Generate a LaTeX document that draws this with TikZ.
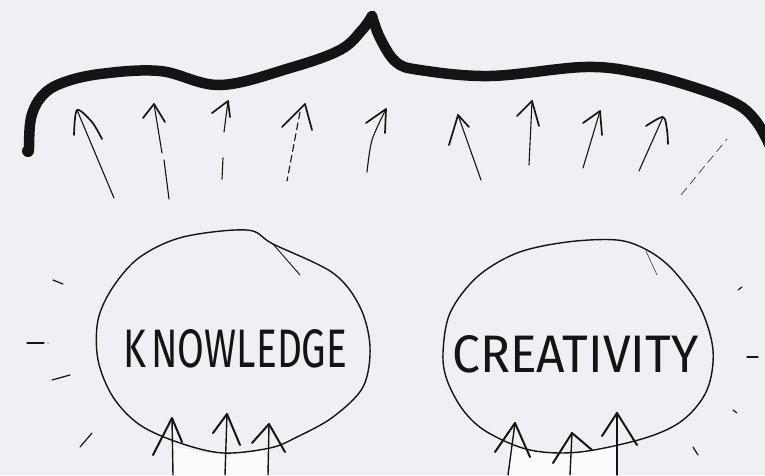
\documentclass[tikz,border=0pt]{standalone}
\usepackage{fontspec}
\newfontfamily\hand{Fira Sans}
\definecolor{bg}{HTML}{EEF0F3}
\definecolor{ink}{HTML}{141414}
\definecolor{faint}{HTML}{3A3A3A}
\definecolor{patch}{HTML}{FAFBFC}
\tikzset{
  pen/.style={draw=ink, line width=1.1pt, line cap=round, line join=round},
  headpen/.style={draw=ink, line width=1.7pt, line cap=round, line join=round},
  ringpen/.style={draw=ink, line width=1.4pt, line cap=round, line join=round},
  bracepen/.style={draw=ink, line width=10.5pt, line cap=round, line join=round},
  tickpen/.style={draw=ink, line width=1.2pt, line cap=round},
  word/.style={anchor=base west, inner sep=0pt, text=ink}
}
\begin{document}
\begin{tikzpicture}[x=1pt,y=-1pt]
\fill[bg] (0,0) rectangle (765,475);
\useasboundingbox (0,0) rectangle (765,475);

% ---- brace ----
\draw[bracepen] plot[smooth, tension=0.6] coordinates {(29,150) (31,118) (42,96) (62,83) (100,74) (160,71) (220,85) (290,68) (340,50) (362,30) (372,16)};
\draw[bracepen] plot[smooth, tension=0.6] coordinates {(372,16) (380,38) (396,62) (420,70) (490,76) (585,67) (640,73) (690,86) (735,103) (756,121) (770,146)};
\fill[ink] (28,151) circle (6pt);

% ---- upper arrows ----
% 1
\draw[pen] (114,198) -- (77,110);
\draw[headpen] plot[smooth, tension=0.5] coordinates {(74,135) (77,110) (92,122) (102,139)};
% 2
\draw[pen] (154,104) -- (162,153);
\draw[pen] (164,160) -- (169,199);
\draw[headpen] (143,118) -- (154,104) -- (165,122);
% 3
\draw[pen] (228,101) -- (224,132);
\draw[pen] (223,158) -- (222,179);
\draw[headpen] (212,113) -- (228,101) -- (230,117);
% 4
\draw[pen, dash pattern=on 7pt off 4pt] (300,112) -- (287,181);
\draw[headpen] (282,127) -- (305,104) -- (312,130);
% 5
\draw[pen] plot[smooth] coordinates {(367,172) (372,140) (386,109)};
\draw[headpen] (366,123) -- (386,109) -- (385,133);
% 6
\draw[pen] (481,180) -- (458,115);
\draw[headpen] (449,145) -- (458,115) -- (469,127);
% 7
\draw[pen] (529,165) -- (532,101);
\draw[headpen] (517,116) -- (532,101) -- (539,126);
% 8
\draw[pen] (583,168) -- (600,111);
\draw[headpen] (583,123) -- (600,111) -- (602,135);
% 9
\draw[pen] (639,171) -- (663,117);
\draw[headpen] plot[smooth, tension=0.5] coordinates {(646,126) (663,117) (667,130) (668,144)};
% 10 (faint dashed)
\draw[draw=faint, line width=0.7pt, dash pattern=on 9pt off 5pt] (681,195) -- (727,139);

% ---- light patches under circles ----
\fill[patch] plot[smooth] coordinates {(173,446) (200,452) (223,454) (250,452) (268,448)} -- (268,475) -- (173,475) -- cycle;
\fill[patch] plot[smooth] coordinates {(508,447) (530,451) (570,453) (600,448) (617,443)} -- (617,475) -- (508,475) -- cycle;

% ---- circles ----
\draw[ringpen] plot[smooth cycle, tension=0.55] coordinates {(183,237) (247,230) (273,244) (333,273) (360,307) (370,347) (363,387) (333,417) (297,437) (270,448) (223,453) (180,443) (140,425) (113,397) (98,360) (98,320) (113,287) (140,257)};
\draw[pen, line width=0.9pt] (273,244) -- (300,275);

\draw[ringpen] plot[smooth cycle, tension=0.55] coordinates {(567,242) (617,240) (647,250) (673,270) (700,307) (713,350) (707,390) (683,420) (645,438) (580,452) (530,450) (487,432) (463,410) (447,380) (443,353) (450,313) (477,277) (517,253)};
\draw[draw=faint, line width=0.6pt] (646,251) -- (657,275);

% ---- words ----
\node[word] (know) at (123,367) {\resizebox{224pt}{38pt}{\hand K\kern0.14em NOWLEDGE}};
\node[word] (crea) at (452,372) {\resizebox{246pt}{37pt}{\hand CREATIVITY}};

% ---- bottom arrows: knowledge ----
\draw[pen, line width=1.4pt] (173,475) -- (172,418);
\draw[headpen, line width=2pt] (153,455) -- (172,418) -- (182,442);
\draw[pen, line width=1.4pt] (225,475) -- (227,414);
\draw[headpen, line width=2pt] (213,433) -- (227,414) -- (240,445);
\draw[pen, line width=1.4pt] (268,475) -- (269,424);
\draw[headpen, line width=2pt] (252,443) -- (269,424) -- (285,452);

% ---- bottom arrows: creativity ----
\draw[pen, line width=1.4pt] (508,475) -- (515,423);
\draw[headpen, line width=2pt] (495,452) -- (515,423) -- (530,457);
\draw[pen, line width=1.4pt] (570,475) -- (572,433);
\draw[headpen, line width=2pt] (553,463) -- (572,433) -- (592,450);
\draw[pen, line width=1.4pt] (617,475) -- (617,413);
\draw[headpen, line width=2pt] (602,436) -- (617,413) -- (637,445);

% ---- radiating ticks ----
\draw[tickpen] (53,280) -- (63,284);
\draw[tickpen] (27,343) -- (44,343);
\fill[ink] (48,343) circle (0.6pt);
\draw[tickpen] (52,380) -- (70,375);
\draw[tickpen] (80,447) -- (92,433);
\draw[tickpen] (738,290) -- (742,287);
\draw[tickpen] (747,357) -- (758,357);
\draw[tickpen] (733,410) -- (737,413);
\draw[tickpen] (693,447) -- (698,455);
\end{tikzpicture}
\end{document}
